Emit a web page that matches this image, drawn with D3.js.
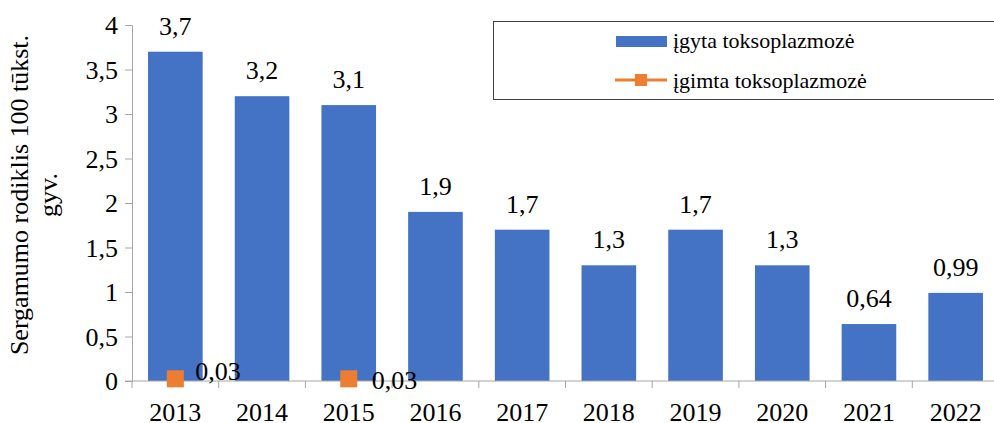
<!DOCTYPE html>
<html>
<head>
<meta charset="utf-8">
<script src="https://cdn.jsdelivr.net/npm/d3@7/dist/d3.min.js"></script>
<style>
  body { margin: 0; background: #fff; }
</style>
</head>
<body>
<svg id="chart" width="994" height="423"></svg>
<script>
let years = ['2013', '2014', '2015', '2016', '2017', '2018', '2019', '2020', '2021', '2022']
let acquired = [3.7, 3.2, 3.1, 1.9, 1.7, 1.3, 1.7, 1.3, 0.64, 0.99]
let congenital = [0.03, null, 0.03, null, null, null, null, null, null, null]
let yTicks = [0, 0.5, 1, 1.5, 2, 2.5, 3, 3.5, 4]
let seriesNames = ['įgyta toksoplazmozė', 'įgimta toksoplazmozė']

let fmt = v => String(v).replace('.', ',')
let blue = '#4472c4', orange = '#ed7d31', axisGrey = '#a6a6a6'
let serif = '"Liberation Serif", "Times New Roman", serif'

let svg = d3.select('#chart')
let plotL = 132, plotR = 999, plotT = 25, plotB = 381

let x = d3.scaleBand().domain(years).range([plotL, plotR]).paddingInner(0.37).paddingOuter(0.185)
let y = d3.scaleLinear().domain([0, 4]).range([plotB, plotT])

// bars
svg.selectAll('rect.bar')
  .data(acquired)
  .enter().append('rect')
    .attr('class', 'bar')
    .attr('x', (d, i) => x(years[i]))
    .attr('y', d => y(d))
    .attr('width', x.bandwidth())
    .attr('height', d => y(0) - y(d))
    .attr('fill', blue)

svg.selectAll('text.val')
  .data(acquired)
  .enter().append('text')
    .attr('class', 'val')
    .attr('x', (d, i) => x(years[i]) + x.bandwidth() / 2)
    .attr('y', d => y(d) - 17)
    .attr('text-anchor', 'middle')
    .attr('font-size', 26)
    .text(fmt)

// y axis
let yAxis = svg.append('g')
  .attr('transform', `translate(${plotL},0)`)
  .call(d3.axisLeft(y).tickValues(yTicks).tickFormat(fmt).tickSize(7).tickPadding(7))
yAxis.select('.domain').attr('stroke', axisGrey)
yAxis.selectAll('.tick line').attr('stroke', axisGrey)
yAxis.selectAll('.tick text').attr('font-size', 26).attr('dy', '0.34em').attr('fill', '#000')

// x axis, ticks between categories
let xAxis = svg.append('g').attr('transform', `translate(0,${plotB})`)
xAxis.append('line').attr('x1', plotL - 7).attr('x2', plotR).attr('stroke', axisGrey)
let step = x.step()
xAxis.selectAll('line.tk')
  .data(d3.range(years.length + 1))
  .enter().append('line')
    .attr('class', 'tk')
    .attr('x1', i => plotL + i * step).attr('x2', i => plotL + i * step)
    .attr('y1', 0).attr('y2', 7)
    .attr('stroke', axisGrey)
xAxis.selectAll('text')
  .data(years)
  .enter().append('text')
    .attr('x', d => x(d) + x.bandwidth() / 2)
    .attr('y', 40)
    .attr('text-anchor', 'middle')
    .attr('font-size', 26)
    .text(d => d)

// congenital markers
let pts = congenital.map((v, i) => ({ v, i })).filter(d => d.v !== null)
svg.selectAll('rect.pt')
  .data(pts)
  .enter().append('rect')
    .attr('class', 'pt')
    .attr('x', d => x(years[d.i]) + x.bandwidth() / 2 - 8.5)
    .attr('y', d => y(d.v) - 8)
    .attr('width', 17).attr('height', 17)
    .attr('fill', orange)
let ptShift = [[20, 1.5], [23, 11]]
svg.selectAll('text.pv')
  .data(pts)
  .enter().append('text')
    .attr('class', 'pv')
    .attr('x', (d, k) => x(years[d.i]) + x.bandwidth() / 2 + ptShift[k][0])
    .attr('y', (d, k) => y(d.v) + ptShift[k][1])
    .attr('font-size', 26)
    .text(d => fmt(d.v))

// y title
let title = svg.append('text')
  .attr('transform', 'translate(0,195) rotate(-90)')
  .attr('text-anchor', 'middle')
  .attr('font-size', 26)
title.append('tspan').attr('x', 0).attr('y', 28).text('Sergamumo rodiklis 100 tūkst.')
title.append('tspan').attr('x', 0).attr('y', 57).text('gyv.')

// legend
let lg = svg.append('g')
lg.append('rect').attr('x', 493.5).attr('y', 21.5).attr('width', 510).attr('height', 78)
  .attr('fill', '#fff').attr('stroke', '#404040')
lg.append('rect').attr('x', 616).attr('y', 36).attr('width', 51).attr('height', 11).attr('fill', blue)
lg.append('text').attr('x', 673).attr('y', 48).attr('font-size', 22).text(seriesNames[0])
lg.append('line').attr('x1', 615).attr('x2', 667).attr('y1', 80).attr('y2', 80)
  .attr('stroke', orange).attr('stroke-width', 3)
lg.append('rect').attr('x', 635).attr('y', 74).attr('width', 12).attr('height', 12).attr('fill', orange)
lg.append('text').attr('x', 673).attr('y', 88).attr('font-size', 22).text(seriesNames[1])

svg.selectAll('text').style('font-family', serif).style('fill', '#000')
</script>
</body>
</html>
